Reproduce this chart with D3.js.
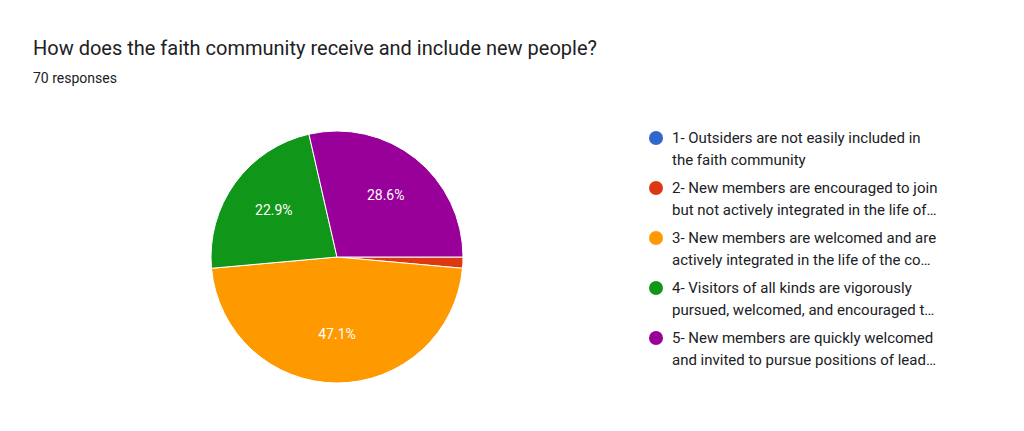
<!DOCTYPE html>
<html>
<head>
<meta charset="utf-8">
<script src="https://cdn.jsdelivr.net/npm/d3@7"></script>
<style>
  body { margin: 0; background: #fff; font-family: Roboto, Arial, sans-serif; }
</style>
</head>
<body>
<svg id="chart" width="1024" height="431"></svg>
<script>
// chart data
const categories = ['1', '2', '3', '4', '5']
const counts = [0, 1, 33, 16, 20]
const colors = ['#3366cc', '#dc3912', '#ff9900', '#109618', '#990099']
const legend_lines = [
    ['1- Outsiders are not easily included in', 'the faith community'],
    ['2- New members are encouraged to join', 'but not actively integrated in the life of\u2026'],
    ['3- New members are welcomed and are', 'actively integrated in the life of the co\u2026'],
    ['4- Visitors of all kinds are vigorously', 'pursued, welcomed, and encouraged t\u2026'],
    ['5- New members are quickly welcomed', 'and invited to pursue positions of lead\u2026']
]

const svg = d3.select('#chart')

svg.append('text')
    .attr('x', 33).attr('y', 55)
    .attr('font-size', 20).attr('fill', '#202124')
    .text('How does the faith community receive and include new people?')
svg.append('text')
    .attr('x', 33).attr('y', 83)
    .attr('font-size', 14).attr('fill', '#202124')
    .text('70 responses')

const total = d3.sum(counts)
const cx = 337, cy = 257, radius = 126

const pie = d3.pie().sort(null)
    .startAngle(Math.PI / 2).endAngle(Math.PI / 2 + 2 * Math.PI)
const arc = d3.arc().innerRadius(0).outerRadius(radius)
const arcs = pie(counts)

const g = svg.append('g').attr('transform', `translate(${cx},${cy})`)
g.selectAll('path')
    .data(arcs.filter(d => d.value > 0))
    .enter()
    .append('path')
    .attr('d', arc)
    .attr('fill', d => colors[d.index])
    .attr('stroke', '#fff')
    .attr('stroke-width', 1)

const label_arc = d3.arc().innerRadius(radius * 0.62).outerRadius(radius * 0.62)
g.selectAll('text')
    .data(arcs.filter(d => d.value / total > 0.05))
    .enter()
    .append('text')
    .attr('transform', d => `translate(${label_arc.centroid(d)})`)
    .attr('text-anchor', 'middle')
    .attr('dominant-baseline', 'middle')
    .attr('font-size', 14)
    .attr('fill', '#fff')
    .text(d => (d.value / total * 100).toFixed(1) + '%')

const legend = svg.append('g')
const items = legend.selectAll('g')
    .data(categories)
    .enter()
    .append('g')
    .attr('transform', (d, i) => `translate(656, ${138 + i * 50})`)
items.append('circle')
    .attr('r', 7)
    .attr('fill', (d, i) => colors[i])
items.append('text')
    .attr('font-size', 15)
    .attr('fill', '#202124')
    .selectAll('tspan')
    .data((d, i) => legend_lines[i])
    .enter()
    .append('tspan')
    .attr('x', 16)
    .attr('y', (d, j) => 5 + j * 22)
    .text(d => d)
</script>
</body>
</html>
